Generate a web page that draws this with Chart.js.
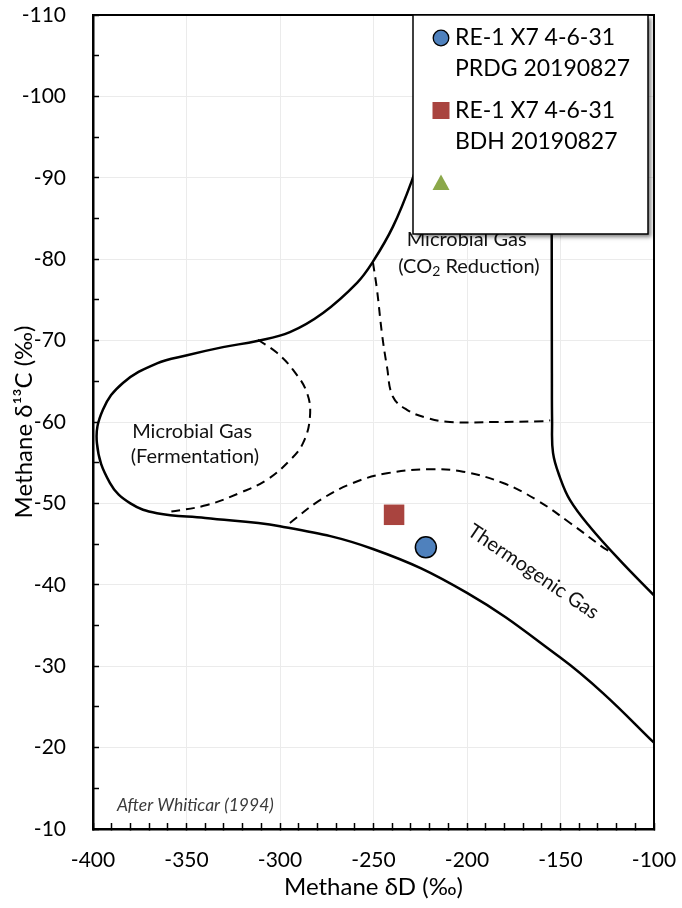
<!DOCTYPE html>
<html><head><meta charset="utf-8">
<script src="https://cdn.jsdelivr.net/npm/chart.js@4.4.1/dist/chart.umd.min.js"></script>
<style>html,body{margin:0;padding:0;background:#fff}canvas{display:block}</style>
</head><body>
<canvas id="c" width="682" height="908"></canvas>
<script>
const FONT = 'Lato, "Open Sans", "DejaVu Sans", sans-serif';

// ---- Sample data (δD ‰, δ13C ‰) ----
const prdgX = [-222];
const prdgY = [-44.6];
const bdhX = [-239];
const bdhY = [-48.6];
const thirdX = [];
const thirdY = [];

// ---- Field boundaries (after Whiticar 1994) ----
// outer envelope: CO2-reduction left limb -> fermentation loop -> thermogenic lower limit
const outerX = [-205, -215, -222, -229.4, -239.6, -250.3, -258.8, -277, -294.7, -312.3, -330.5, -349.7, -365.8, -384, -394.7, -397.9, -390.9, -380, -365.8, -340, -300, -250.3, -200, -150.3, -127.3, -100];
const outerY = [-110, -101, -95, -89.7, -84.0, -79.7, -77.1, -73.4, -71.05, -69.95, -69.2, -68.2, -67.2, -64.8, -61.5, -57.4, -52.5, -50.0, -48.8, -48.2, -47.2, -44.4, -39.0, -31.1, -26.7, -20.6];
// right limit of CO2-reduction field bending into thermogenic upper limit
const rightX = [-154.7, -154.7, -154.6, -154.5, -154.0, -150.3, -144.9, -134.2, -118.2, -100];
const rightY = [-110, -83, -66, -60.2, -56.2, -53.2, -50.4, -47.1, -43.0, -38.7];
// dashed: fermentation field
const fermX = [-311.8, -301.6, -293, -285.6, -284, -287.7, -294.7, -307, -321.4, -339, -360.4];
const fermY = [-70.1, -68.5, -66.4, -63.6, -60.6, -57.4, -55.3, -52.9, -51.3, -49.8, -48.9];
// dashed: CO2 reduction field
const co2X = [-250.3, -248.1, -245.5, -242.8, -239.6, -232.1, -221.4, -209.1, -185, -159.4, -155.5];
const co2Y = [-79.6, -76.2, -70.9, -66.8, -63.1, -61.5, -60.5, -60.0, -60.0, -60.1, -60.2];
// dashed: thermogenic field
const thermoX = [-294.7, -278.6, -261, -242.8, -219.8, -202.1, -180.7, -162.6, -144.9, -127.3, -124.5];
const thermoY = [-47.6, -50.4, -52.5, -53.7, -54.2, -53.9, -52.5, -50.4, -47.6, -44.6, -44.2];

// ---- Axis ranges / tick steps ----
const xMin = -400, xMax = -100, xMajor = 50, xMinor = 10;
const yMin = -110, yMax = -10, yMajor = 10, yMinor = 5;

// ---- Field labels (anchored in data coordinates) ----
const fieldLabels = [
  {text: 'Microbial Gas', x: -347, y: -58.8},
  {text: '(Fermentation)', x: -345.5, y: -55.7},
  {text: 'Microbial Gas', x: -200.2, y: -82.4},
  {text: '(CO|2| Reduction)', x: -199, y: -79.1},
  {text: 'Thermogenic Gas', x: -164.5, y: -41.6, rot: 34}
];
const creditText = {text: 'After Whiticar (1994)', x: -387.2, y: -12.95};

const pts = (xs, ys) => xs.map((v, i) => ({x: v, y: ys[i]}));
const curve = (xs, ys, dashed) => ({
  type: 'scatter', data: pts(xs, ys), showLine: true, tension: 0.4,
  borderColor: '#000', borderWidth: dashed ? 2 : 2.5, borderDash: dashed ? [9, 6] : [],
  pointRadius: 0, pointHoverRadius: 0, fill: false, isCurve: true
});

const datasets = [
  {label: ['RE-1 X7 4-6-31', 'PRDG 20190827'], data: pts(prdgX, prdgY), pointStyle: 'circle', pointRadius: 10.5,
   backgroundColor: '#4F81BD', borderColor: '#000', borderWidth: 1.5},
  {label: ['RE-1 X7 4-6-31', 'BDH 20190827'], data: pts(bdhX, bdhY), pointStyle: 'rect', pointRadius: 14.5,
   backgroundColor: '#A9443F', borderColor: '#A9443F', borderWidth: 0},
  {label: [''], data: pts(thirdX, thirdY), pointStyle: 'triangle', pointRadius: 10,
   backgroundColor: '#8BA84A', borderColor: '#8BA84A', borderWidth: 0},
  curve(outerX, outerY, false),
  curve(rightX, rightY, false),
  curve(fermX, fermY, true),
  curve(co2X, co2Y, true),
  curve(thermoX, thermoY, true)
];

const labelsPlugin = {
  id: 'fieldLabels',
  afterDatasetsDraw(chart) {
    const {ctx, scales: {x, y}} = chart;
    ctx.save();
    ctx.fillStyle = '#111';
    ctx.textBaseline = 'middle';
    for (const l of fieldLabels) {
      const px = x.getPixelForValue(l.x), py = y.getPixelForValue(l.y);
      ctx.save();
      ctx.translate(px, py);
      if (l.rot) ctx.rotate(l.rot * Math.PI / 180);
      const parts = l.text.split('|');
      const big = '20px ' + FONT, small = '14px ' + FONT;
      let total = 0;
      parts.forEach((p, i) => { ctx.font = i % 2 ? small : big; total += ctx.measureText(p).width; });
      let cx = -total / 2;
      ctx.textAlign = 'left';
      parts.forEach((p, i) => {
        ctx.font = i % 2 ? small : big;
        ctx.fillText(p, cx, i % 2 ? 5 : 0);
        cx += ctx.measureText(p).width;
      });
      ctx.restore();
    }
    ctx.font = 'italic 17.5px ' + FONT;
    ctx.fillStyle = '#3a3a3a';
    ctx.textAlign = 'left';
    ctx.fillText(creditText.text, x.getPixelForValue(creditText.x), y.getPixelForValue(creditText.y));
    ctx.restore();
  }
};

const framePlugin = {
  id: 'frame',
  afterDatasetsDraw(chart) {
    const {ctx, chartArea: a} = chart;
    ctx.save();
    ctx.strokeStyle = '#000';
    ctx.lineWidth = 2;
    ctx.beginPath();
    ctx.moveTo(a.left, a.top); ctx.lineTo(a.right, a.top); ctx.lineTo(a.right, a.bottom);
    ctx.stroke();
    ctx.restore();
  }
};

const legendPlugin = {
  id: 'boxLegend',
  afterDraw(chart) {
    const {ctx, chartArea: a} = chart;
    const w = 235, h = 219;
    const bx = a.right - 241, by = a.top;
    ctx.save();
    ctx.shadowColor = 'rgba(0,0,0,0.5)';
    ctx.shadowBlur = 4; ctx.shadowOffsetX = 3; ctx.shadowOffsetY = 3;
    ctx.fillStyle = '#fff';
    ctx.fillRect(bx, by, w, h);
    ctx.restore();
    ctx.save();
    ctx.strokeStyle = '#000'; ctx.lineWidth = 1.5;
    ctx.strokeRect(bx, by, w, h);
    ctx.font = '23px ' + FONT;
    ctx.textBaseline = 'middle'; ctx.textAlign = 'left';
    let rowY = by + 23;
    chart.data.datasets.filter(d => !d.isCurve).forEach(d => {
      const mx = bx + 28, my = rowY;
      ctx.fillStyle = d.backgroundColor;
      ctx.beginPath();
      if (d.pointStyle === 'circle') {
        ctx.arc(mx, my, 7.8, 0, Math.PI * 2);
        ctx.fill();
        ctx.lineWidth = 1.3; ctx.strokeStyle = '#000'; ctx.stroke();
      } else if (d.pointStyle === 'rect') {
        ctx.fillRect(mx - 8.5, my - 8.5, 17, 17);
      } else {
        ctx.moveTo(mx, my - 8.5); ctx.lineTo(mx + 8.5, my + 7); ctx.lineTo(mx - 8.5, my + 7); ctx.closePath();
        ctx.fill();
      }
      ctx.fillStyle = '#000';
      d.label.forEach((t, i) => ctx.fillText(t, bx + 42, rowY + i * 31));
      rowY += d.label.length * 31 + 10.5;
    });
    ctx.restore();
  }
};

const noPad = s => { s.paddingTop = 0; s.paddingBottom = 0; s.paddingLeft = 0; s.paddingRight = 0; };

new Chart(document.getElementById('c'), {
  type: 'scatter',
  data: {datasets},
  plugins: [labelsPlugin, framePlugin, legendPlugin],
  options: {
    responsive: false, animation: false, devicePixelRatio: 1,
    layout: {padding: {left: 0, right: 28, top: 15, bottom: 0}},
    plugins: {legend: {display: false}, tooltip: {enabled: false}},
    scales: {
      x: {
        type: 'linear', position: 'bottom', min: xMin, max: xMax,
        ticks: {stepSize: xMinor, autoSkip: false, maxRotation: 0, padding: 25, color: '#000',
          font: {family: FONT, size: 21}, callback: v => (v % xMajor === 0 ? String(v) : '')},
        grid: {color: c => (c.tick && c.tick.value % xMajor === 0 ? '#ebebeb' : 'rgba(0,0,0,0)'),
          lineWidth: 1, tickColor: '#000', tickWidth: 1.5, tickLength: -6, drawTicks: true},
        border: {display: true, color: '#000', width: 2.5},
        title: {display: true, text: 'Methane δD (‰)', color: '#000', font: {family: FONT, size: 24},
          padding: {top: 0, bottom: 6}},
        afterFit: s => { s.height = 79; noPad(s); }
      },
      y: {
        type: 'linear', position: 'left', min: yMin, max: yMax, reverse: true,
        ticks: {stepSize: yMinor, autoSkip: false, padding: 33, color: '#000',
          font: {family: FONT, size: 21}, callback: v => (v % yMajor === 0 ? String(v) : '')},
        grid: {color: c => (c.tick && c.tick.value % yMajor === 0 ? '#ebebeb' : 'rgba(0,0,0,0)'),
          lineWidth: 1, tickColor: '#000', tickWidth: 1.5, tickLength: -6, drawTicks: true},
        border: {display: true, color: '#000', width: 2.5},
        title: {display: true, text: 'Methane δ¹³C (‰)', color: '#000', font: {family: FONT, size: 24},
          padding: {top: 10, bottom: 0}},
        afterFit: s => { s.width = 93; noPad(s); }
      }
    }
  }
});
</script>
</body></html>
